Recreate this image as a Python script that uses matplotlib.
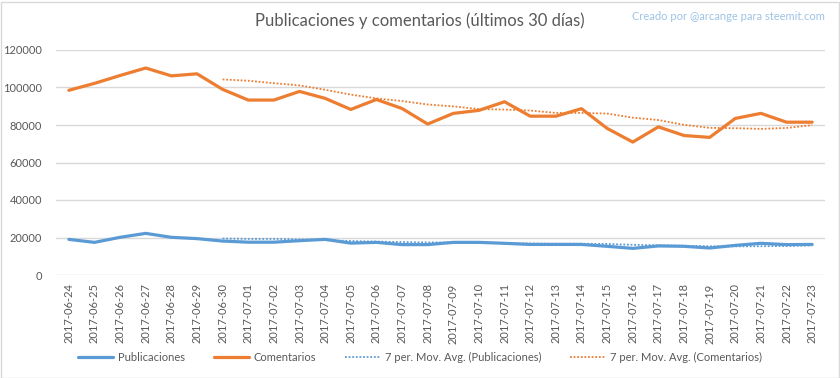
import numpy as np
import matplotlib
matplotlib.use("Agg")
import matplotlib.pyplot as plt
from matplotlib.patches import Rectangle

plt.rcParams['font.family'] = ['Lato', 'DejaVu Sans']

# -------------------------------------------------------------------
# data
# -------------------------------------------------------------------
fechas = ["2017-06-24", "2017-06-25", "2017-06-26", "2017-06-27", "2017-06-28",
          "2017-06-29", "2017-06-30", "2017-07-01", "2017-07-02", "2017-07-03",
          "2017-07-04", "2017-07-05", "2017-07-06", "2017-07-07", "2017-07-08",
          "2017-07-09", "2017-07-10", "2017-07-11", "2017-07-12", "2017-07-13",
          "2017-07-14", "2017-07-15", "2017-07-16", "2017-07-17", "2017-07-18",
          "2017-07-19", "2017-07-20", "2017-07-21", "2017-07-22", "2017-07-23"]

publicaciones = [19000, 17400, 20100, 22200, 20100, 19400, 18100, 17500, 17500, 18300,
                 19000, 17000, 17400, 16200, 16200, 17400, 17400, 16900, 16300, 16300,
                 16300, 15300, 14200, 15500, 15300, 14400, 15800, 16900, 16200, 16300]

comentarios = [98500, 102200, 106400, 110400, 106200, 107300, 99000, 93300, 93300, 97900,
               94200, 88300, 93600, 88800, 80500, 86200, 87800, 92400, 84700, 84700,
               88700, 78200, 70900, 79000, 74400, 73400, 83500, 86200, 81500, 81500]

# 7 per. moving averages as drawn (first six days have no value)
ma_publicaciones = [None] * 6 + [19470, 19260, 19270, 19010, 18560, 18110, 17830, 17560,
                                 17370, 17360, 17230, 16930, 16830, 16670, 16690, 16560,
                                 16100, 15830, 15600, 15330, 15260, 15340, 15470, 15770]

ma_comentarios = [None] * 6 + [104300, 103600, 102300, 101100, 98800, 96200, 94200, 92770,
                               90940, 89930, 88490, 88230, 87710, 86440, 86430, 86100,
                               83910, 82660, 80090, 78470, 78300, 77940, 78410, 79930]

y_ticks = [0, 20000, 40000, 60000, 80000, 100000, 120000]

# -------------------------------------------------------------------
# plot
# -------------------------------------------------------------------
azul = '#5B9BD5'
naranja = '#ED7D31'
gris = '#595959'

fig = plt.figure(figsize=(8.4, 3.78), dpi=100)
fig.patches.append(Rectangle((0.5 / 840, 0.5 / 378), 838 / 840, 376 / 378,
                             transform=fig.transFigure, fill=False,
                             edgecolor='#D9D9D9', linewidth=1))

ax = fig.add_axes([56 / 840, 1 - 275 / 378, (825 - 56) / 840, (275 - 50) / 378])
x = np.arange(len(fechas))

ma_pub = np.array([np.nan if v is None else v for v in ma_publicaciones], dtype=float)
ma_com = np.array([np.nan if v is None else v for v in ma_comentarios], dtype=float)

ax.plot(x, publicaciones, color=azul, linewidth=2.3, label='Publicaciones',
        solid_joinstyle='round', solid_capstyle='round', zorder=3)
ax.plot(x, comentarios, color=naranja, linewidth=2.3, label='Comentarios',
        solid_joinstyle='round', solid_capstyle='round', zorder=3)
ax.plot(x, ma_pub, color=azul, linewidth=1.3, linestyle=(0, (1, 1)),
        label='7 per. Mov. Avg. (Publicaciones)', zorder=4)
ax.plot(x, ma_com, color=naranja, linewidth=1.3, linestyle=(0, (1, 1)),
        label='7 per. Mov. Avg. (Comentarios)', zorder=4)

ax.set_xlim(-0.5, len(fechas) - 0.5)
ax.set_ylim(0, 120000)
ax.set_yticks(y_ticks)
ax.set_yticklabels([str(v) for v in y_ticks])
ax.set_xticks(x)
ax.set_xticklabels(fechas, rotation=90)
ax.tick_params(axis='both', length=0, labelsize=8, labelcolor=gris)
ax.tick_params(axis='y', pad=10)
ax.tick_params(axis='x', pad=6)
ax.grid(axis='y', color='#D9D9D9', linewidth=1)
ax.set_axisbelow(True)
for s in ax.spines.values():
    s.set_visible(False)

fig.text(0.5, 1 - 21 / 378, 'Publicaciones y comentarios (últimos 30 días)',
         ha='center', va='center', fontsize=12, color=gris)
fig.text(825 / 840, 1 - 16 / 378, 'Creado por @arcange para steemit.com',
         ha='right', va='center', fontsize=8, color='#9DC3E6')

fig.legend(loc='center', bbox_to_anchor=(0.5, 1 - 357 / 378), ncol=4, frameon=False,
           fontsize=8, labelcolor=gris, handlelength=3.2, handletextpad=0.4,
           columnspacing=2.6)

fig.savefig('out.png', dpi=100)
